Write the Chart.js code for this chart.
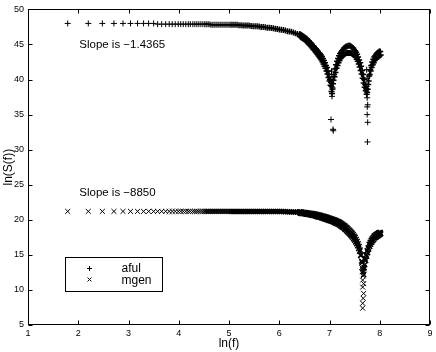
<!DOCTYPE html>
<html>
<head>
<meta charset="utf-8">
<script src="https://cdn.jsdelivr.net/npm/chart.js@4"></script>
<style>
  html, body { margin: 0; padding: 0; background: #fff; }
  canvas { display: block; }
</style>
</head>
<body>
<canvas id="chart" width="436" height="352"></canvas>
<script>
// --- Data ---
const lnF = [
  1.79, 2.20, 2.48, 2.71, 2.89, 3.04, 3.18, 3.30, 3.40, 3.50, 3.58, 3.66, 3.74, 3.81, 3.87, 3.93, 3.99,
  4.04, 4.09, 4.14, 4.19, 4.23, 4.28, 4.32, 4.36,
  4.40, 4.44, 4.48, 4.52, 4.56, 4.60, 4.64, 4.68, 4.72, 4.76, 4.80, 4.84, 4.88, 4.92, 4.96, 5.00,
  5.04, 5.08, 5.12, 5.16, 5.20, 5.24, 5.28, 5.32, 5.36, 5.40,
  5.44, 5.48, 5.52, 5.56, 5.60, 5.64, 5.68, 5.72, 5.76, 5.80,
  5.84, 5.88, 5.92, 5.96, 6.00, 6.04, 6.08, 6.12, 6.16, 6.20,
  6.24, 6.28, 6.32, 6.36, 6.40,
  6.41, 6.42, 6.43, 6.44, 6.45, 6.46, 6.47, 6.48, 6.49, 6.50,
  6.51, 6.52, 6.53, 6.54, 6.55, 6.56, 6.57, 6.58, 6.59, 6.60,
  6.61, 6.62, 6.63, 6.64, 6.65, 6.66, 6.67, 6.68, 6.69, 6.70,
  6.71, 6.72, 6.73, 6.74, 6.75, 6.76, 6.77, 6.78, 6.79, 6.80,
  6.81, 6.82, 6.83, 6.84, 6.85, 6.86, 6.87, 6.88, 6.89, 6.90,
  6.91, 6.92, 6.93, 6.94, 6.95, 6.96, 6.97, 6.98, 6.99, 7.00,
  7.01, 7.02, 7.03, 7.04, 7.05, 7.06, 7.07, 7.08, 7.09, 7.10,
  7.11, 7.12, 7.13, 7.14, 7.15, 7.16, 7.17, 7.18, 7.19, 7.20,
  7.21, 7.22, 7.23, 7.24, 7.25, 7.26, 7.27, 7.28, 7.29, 7.30,
  7.31, 7.32, 7.33, 7.34, 7.35, 7.36, 7.37, 7.38, 7.39, 7.40,
  7.41, 7.42, 7.43, 7.44, 7.45, 7.46, 7.47, 7.48, 7.49, 7.50,
  7.51, 7.52, 7.53, 7.54, 7.55, 7.56, 7.57, 7.58, 7.59, 7.60,
  7.61, 7.62, 7.63, 7.64, 7.65, 7.66, 7.67, 7.68, 7.69, 7.70,
  7.71, 7.72, 7.73, 7.74, 7.75, 7.76, 7.77, 7.78, 7.79, 7.80,
  7.81, 7.82, 7.83, 7.84, 7.85, 7.86, 7.87, 7.88, 7.89, 7.90,
  7.91, 7.92, 7.93, 7.94, 7.95, 7.96, 7.97, 7.98, 7.99, 8.00,
  8.01, 8.02
];

const afulS = [
  48.0, 48.0, 48.0, 48.0, 48.0, 48.0, 48.0, 48.0, 48.0, 48.0, 47.9, 47.9, 47.9, 47.9, 47.9, 47.9, 47.9,
  47.9, 47.9, 47.9, 47.9, 47.9, 47.9, 47.9, 47.9,
  47.9, 47.9, 47.9, 47.9, 47.9, 47.9, 47.8, 47.8, 47.8, 47.8, 47.8, 47.8, 47.8, 47.8, 47.8, 47.8,
  47.8, 47.8, 47.8, 47.8, 47.75, 47.75, 47.7, 47.7, 47.7, 47.7,
  47.65, 47.6, 47.6, 47.6, 47.55, 47.5, 47.5, 47.45, 47.4, 47.4,
  47.35, 47.3, 47.25, 47.2, 47.15, 47.1, 47.05, 47.0, 46.9, 46.85,
  46.8, 46.7, 46.6, 46.5, 46.4,
  46.5, 46.1, 46.4, 46.0, 46.3, 45.9, 46.2, 45.8, 46.1, 45.7,
  46.0, 45.6, 45.9, 45.5, 45.8, 45.3, 45.6, 45.1, 45.5, 45.0,
  45.3, 44.9, 45.2, 44.7, 45.0, 44.5, 44.8, 44.3, 44.7, 44.2,
  44.5, 44.0, 44.4, 43.8, 44.2, 43.6, 44.0, 43.4, 43.8, 43.2,
  43.7, 43.0, 43.5, 42.8, 43.3, 42.5, 43.0, 42.2, 42.7, 41.9,
  42.4, 41.6, 42.0, 41.2, 41.7, 40.8, 41.2, 40.3, 40.7, 39.8,
  40.0, 39.2, 39.6, 38.3, 38.0, 38.8, 39.4, 39.9, 40.7, 40.4,
  41.5, 41.0, 42.1, 41.6, 42.6, 42.0, 43.0, 42.4, 43.4, 42.7,
  43.7, 43.0, 43.9, 43.2, 44.1, 43.4, 44.3, 43.5, 44.5, 43.6,
  44.6, 43.7, 44.7, 43.8, 44.7, 43.8, 44.8, 43.8, 44.8, 43.8,
  44.8, 43.8, 44.7, 43.7, 44.6, 43.6, 44.5, 43.5, 44.3, 43.4,
  44.1, 43.2, 43.9, 42.9, 43.6, 42.6, 43.2, 42.2, 42.8, 41.8,
  42.4, 41.3, 41.9, 40.8, 41.3, 40.2, 40.7, 39.5, 40.0, 38.9,
  39.3, 38.4, 38.7, 37.9, 38.2, 38.6, 39.3, 39.8, 40.5, 40.7,
  41.4, 41.2, 42.0, 41.7, 42.5, 42.1, 42.9, 42.4, 43.2, 42.7,
  43.4, 42.9, 43.6, 43.1, 43.8, 43.2, 43.9, 43.3, 44.0, 43.4,
  44.0, 43.5
];

const mgenS = [
  21.2, 21.2, 21.2, 21.2, 21.2, 21.2, 21.2, 21.2, 21.2, 21.2, 21.2, 21.2, 21.2, 21.2, 21.2, 21.2, 21.2,
  21.2, 21.2, 21.2, 21.2, 21.2, 21.2, 21.2, 21.2,
  21.2, 21.2, 21.2, 21.2, 21.2, 21.2, 21.2, 21.2, 21.2, 21.2, 21.2, 21.2, 21.2, 21.2, 21.2, 21.2,
  21.2, 21.2, 21.2, 21.2, 21.2, 21.2, 21.2, 21.2, 21.2, 21.2,
  21.2, 21.2, 21.2, 21.2, 21.2, 21.2, 21.2, 21.2, 21.2, 21.2,
  21.2, 21.2, 21.2, 21.2, 21.2, 21.2, 21.2, 21.15, 21.15, 21.15,
  21.1, 21.1, 21.1, 21.1, 21.05,
  21.15, 20.95, 21.1, 20.9, 21.1, 20.9, 21.05, 20.9, 21.05, 20.85,
  21.05, 20.85, 21.0, 20.8, 21.0, 20.8, 20.95, 20.75, 20.95, 20.75,
  20.95, 20.7, 20.9, 20.7, 20.9, 20.65, 20.85, 20.6, 20.85, 20.6,
  20.8, 20.55, 20.8, 20.5, 20.75, 20.45, 20.7, 20.4, 20.7, 20.4,
  20.65, 20.35, 20.6, 20.3, 20.55, 20.25, 20.5, 20.2, 20.5, 20.15,
  20.45, 20.1, 20.4, 20.05, 20.35, 20.0, 20.3, 19.95, 20.25, 19.9,
  20.2, 19.85, 20.15, 19.8, 20.1, 19.75, 20.05, 19.7, 20.0, 19.6,
  19.95, 19.55, 19.9, 19.5, 19.8, 19.4, 19.75, 19.35, 19.7, 19.25,
  19.6, 19.15, 19.5, 19.05, 19.4, 18.95, 19.3, 18.85, 19.2, 18.7,
  19.1, 18.6, 18.95, 18.45, 18.85, 18.3, 18.7, 18.15, 18.55, 18.0,
  18.4, 17.85, 18.25, 17.7, 18.1, 17.5, 17.9, 17.3, 17.7, 17.1,
  17.5, 16.85, 17.2, 16.6, 16.9, 16.3, 16.6, 15.9, 16.2, 15.5,
  15.7, 14.9, 15.0, 14.1, 13.9, 13.0, 12.6, 12.2, 13.2, 13.6,
  14.4, 14.2, 15.0, 14.8, 15.6, 15.3, 16.0, 15.8, 16.5, 16.2,
  16.8, 16.5, 17.1, 16.8, 17.3, 17.0, 17.5, 17.2, 17.7, 17.4,
  17.8, 17.5, 17.9, 17.6, 18.0, 17.7, 18.1, 17.8, 18.2, 17.9,
  18.2, 18.0
];

// extra points stacked in the dips
const afulDipF = [7.04, 7.05, 7.05, 7.06, 7.04, 7.03, 7.07, 7.075, 7.74, 7.75, 7.76, 7.75, 7.75, 7.76, 7.755, 7.75, 7.74];
const afulDipS = [39.0, 37.6, 40.4, 38.6, 41.2, 34.3, 32.9, 32.7, 39.0, 37.4, 36.4, 36.1, 35.0, 33.9, 31.1, 40.2, 41.4];
const mgenDipF = [7.64, 7.65, 7.67, 7.66, 7.68, 7.69, 7.66, 7.68, 7.67, 7.66, 7.66];
const mgenDipS = [13.2, 12.6, 12.0, 11.4, 10.9, 13.0, 10.4, 9.5, 8.8, 8.1, 7.4];

const xTicks = [1, 2, 3, 4, 5, 6, 7, 8, 9];
const yTicks = [5, 10, 15, 20, 25, 30, 35, 40, 45, 50];

const FONT = "'Liberation Sans', Arial, Helvetica, sans-serif";

function pts(xs, ys) {
  return xs.map((v, i) => ({ x: v, y: ys[i] }));
}

// markers in the crowded part of the band blur together, so draw them a bit heavier
function markerWidth(c) {
  if (!c.raw || c.dataIndex >= lnF.length) return 1;
  if (c.raw.x > 5.0) return 1.5;
  if (c.raw.x > 4.5) return 1.25;
  return 1;
}

// --- Frame, inward ticks, notes and legend box ---
const overlay = {
  id: 'overlay',
  afterDraw(chart) {
    const { ctx, chartArea: a, scales: { x, y } } = chart;
    const L = Math.round(a.left) + 0.5, R = Math.round(a.right) - 0.5;
    const T = Math.round(a.top) + 0.5, B = Math.round(a.bottom) - 0.5;
    ctx.save();
    ctx.strokeStyle = '#000';
    ctx.lineWidth = 1;
    ctx.strokeRect(L, T, R - L, B - T);

    ctx.beginPath();
    xTicks.forEach(v => {
      const px = Math.round(x.getPixelForValue(v)) + 0.5;
      ctx.moveTo(px, B); ctx.lineTo(px, B - 4);
      ctx.moveTo(px, T); ctx.lineTo(px, T + 4);
    });
    yTicks.forEach(v => {
      const py = Math.round(y.getPixelForValue(v)) + 0.5;
      ctx.moveTo(L, py); ctx.lineTo(L + 4, py);
      ctx.moveTo(R, py); ctx.lineTo(R - 4, py);
    });
    ctx.stroke();

    // slope notes
    ctx.fillStyle = '#000';
    ctx.font = '11.5px ' + FONT;
    ctx.textBaseline = 'middle';
    ctx.textAlign = 'left';
    ctx.fillText('Slope is \u22121.4365', x.getPixelForValue(2.02), y.getPixelForValue(45.0));
    ctx.fillText('Slope is \u22128850', x.getPixelForValue(2.02), y.getPixelForValue(23.8));

    // legend box
    const bx0 = Math.round(x.getPixelForValue(1.74)) + 0.5;
    const bx1 = Math.round(x.getPixelForValue(3.67)) + 0.5;
    const by0 = Math.round(y.getPixelForValue(14.65)) + 0.5;
    const by1 = Math.round(y.getPixelForValue(9.85)) + 0.5;
    ctx.fillStyle = '#fff';
    ctx.fillRect(bx0, by0, bx1 - bx0, by1 - by0);
    ctx.strokeRect(bx0, by0, bx1 - bx0, by1 - by0);

    const mx = Math.round(x.getPixelForValue(2.22)) + 0.5;
    const my1 = Math.round(y.getPixelForValue(13.13)) + 0.5;
    const my2 = Math.round(y.getPixelForValue(11.5)) + 0.5;
    ctx.beginPath();
    ctx.moveTo(mx - 2.5, my1); ctx.lineTo(mx + 2.5, my1);
    ctx.moveTo(mx, my1 - 2.5); ctx.lineTo(mx, my1 + 2.5);
    ctx.moveTo(mx - 2, my2 - 2); ctx.lineTo(mx + 2, my2 + 2);
    ctx.moveTo(mx - 2, my2 + 2); ctx.lineTo(mx + 2, my2 - 2);
    ctx.stroke();

    ctx.fillStyle = '#000';
    ctx.font = '12px ' + FONT;
    const tx = x.getPixelForValue(2.86);
    ctx.fillText(chart.data.datasets[0].label, tx, my1);
    ctx.fillText(chart.data.datasets[1].label, tx, my2 + 1);
    ctx.restore();
  }
};

// --- Chart.js Setup ---
const ctx = document.getElementById('chart').getContext('2d');
const chart = new Chart(ctx, {
  type: 'scatter',
  data: {
    datasets: [
      {
        label: 'aful',
        data: pts(lnF, afulS).concat(pts(afulDipF, afulDipS)),
        pointStyle: 'cross',
        pointRadius: 3,
        borderColor: '#000',
        backgroundColor: '#000',
        borderWidth: markerWidth,
        showLine: false
      },
      {
        label: 'mgen',
        data: pts(lnF, mgenS).concat(pts(mgenDipF, mgenDipS)),
        pointStyle: 'crossRot',
        pointRadius: 3.5,
        borderColor: '#000',
        backgroundColor: '#000',
        borderWidth: markerWidth,
        showLine: false
      }
    ]
  },
  options: {
    responsive: false,
    maintainAspectRatio: false,
    animation: false,
    devicePixelRatio: 1,
    layout: { padding: { top: 8, right: 6, left: 0, bottom: 0 } },
    plugins: {
      legend: { display: false },
      tooltip: { enabled: false }
    },
    scales: {
      x: {
        type: 'linear',
        min: 1, max: 9,
        afterBuildTicks: s => { s.ticks = xTicks.map(v => ({ value: v })); },
        afterFit: s => { s.height = 27; },
        grid: { display: false, drawTicks: false },
        border: { display: false },
        ticks: { color: '#000', padding: 3, maxRotation: 0, font: { family: FONT, size: 9 } },
        title: { display: true, text: 'ln(f)', color: '#000', padding: { top: 0, bottom: 1 }, font: { family: FONT, size: 12 } }
      },
      y: {
        type: 'linear',
        min: 5, max: 50,
        afterBuildTicks: s => { s.ticks = yTicks.map(v => ({ value: v })); },
        afterFit: s => { s.width = 28; },
        grid: { display: false, drawTicks: false },
        border: { display: false },
        ticks: { color: '#000', padding: 4, font: { family: FONT, size: 9 } },
        title: { display: true, text: 'ln(S(f))', color: '#000', padding: { top: 1, bottom: 0 }, font: { family: FONT, size: 12 } }
      }
    }
  },
  plugins: [overlay]
});
</script>
</body>
</html>
